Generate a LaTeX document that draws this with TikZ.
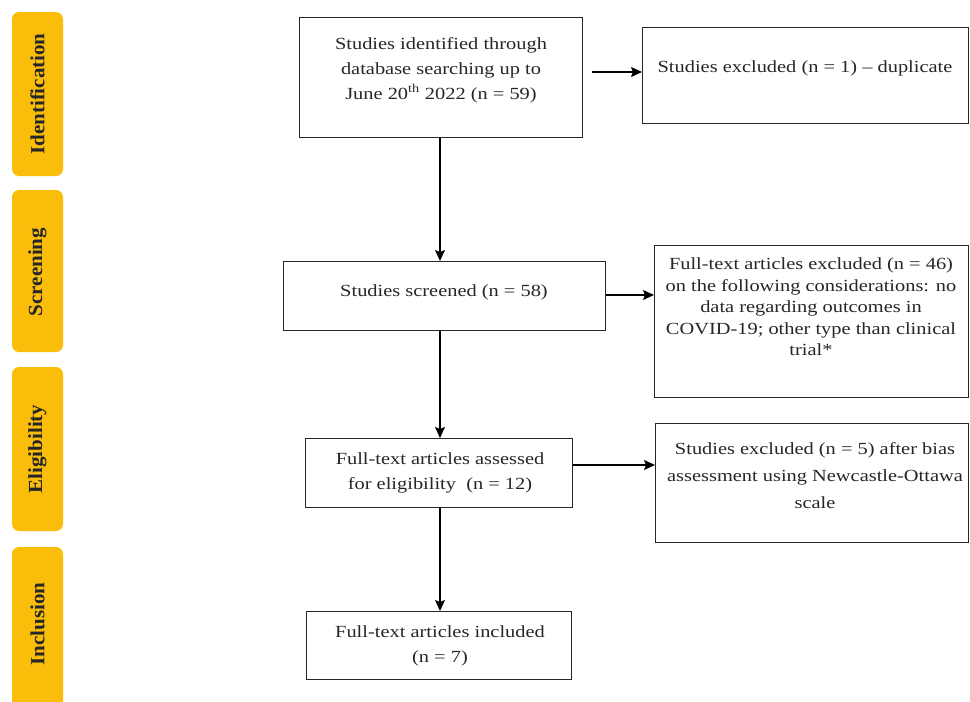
\documentclass[tikz,border=0pt]{standalone}
\usepackage{fontspec}
\setmainfont{Liberation Serif}[FakeStretch=1.2]
\newfontfamily\labelfont{Liberation Serif}[FakeStretch=1.05]
\usetikzlibrary{arrows.meta}
\definecolor{phase}{RGB}{250,189,10}
\begin{document}
\begin{tikzpicture}[x=1pt,y=-1pt,
  box/.style={draw=black!85,line width=1.1pt,rectangle,inner sep=0pt},
  txt/.style={align=center,text=black!85,font=\fontsize{17}{25}\selectfont},
  phasebox/.style={fill=phase,rounded corners=7pt},
  phaselabel/.style={rotate=90,font=\labelfont\fontsize{20}{22}\selectfont\bfseries,text=black!85},
  arr/.style={line width=1.1pt,-{Stealth[length=11pt,width=10pt,inset=2pt]}}]
\useasboundingbox (0,0) rectangle (970,702);
% phase bars
\fill[phasebox] (12,12) rectangle (63,176);
\fill[phasebox] (12,190) rectangle (63,352);
\fill[phasebox] (12,367) rectangle (63,531);
\fill[phasebox] (12,547) rectangle (63,712);
\node[phaselabel] (pid) at (37.5,94) {Identification};
\node[phaselabel] (psc) at (37.5,272) {Screening};
\node[phaselabel] (pel) at (37.5,449) {Eligibility};
\node[phaselabel] (pin) at (37.5,624) {Inclusion};
% boxes
\node[box,minimum width=283pt,minimum height=120pt,anchor=north west] (id) at (299,17) {};
\node[txt] (idt) at (441,70) {Studies identified through\\database searching up to\\June 20\textsuperscript{th} 2022 (n = 59)};
\node[box,minimum width=326pt,minimum height=96pt,anchor=north west] (ex1) at (642,27) {};
\node[txt] (ex1t) at (805,68) {Studies excluded (n = 1) -- duplicate};
\node[box,minimum width=322pt,minimum height=69pt,anchor=north west] (scr) at (283,261) {};
\node[txt] (scrt) at (444,292) {Studies screened (n = 58)};
\node[box,minimum width=314pt,minimum height=152pt,anchor=north west] (ex2) at (654,245) {};
\node[txt,font=\fontsize{17}{21.5}\selectfont] (ex2t) at (811,307) {Full-text articles excluded (n = 46)\\on the following considerations: no\\data regarding outcomes in\\COVID-19; other type than clinical\\trial*};
\node[box,minimum width=267pt,minimum height=69pt,anchor=north west] (ass) at (305,438) {};
\node[txt] (asst) at (440,473) {Full-text articles assessed\\for eligibility\ \ (n = 12)};
\node[box,minimum width=313pt,minimum height=119pt,anchor=north west] (ex3) at (655,423) {};
\node[txt,font=\fontsize{17}{27}\selectfont] (ex3t) at (815,476) {Studies excluded (n = 5) after bias\\assessment using Newcastle-Ottawa\\scale};
\node[box,minimum width=265pt,minimum height=68pt,anchor=north west] (inc) at (306,611) {};
\node[txt] (inct) at (440,646) {Full-text articles included\\(n = 7)};
% connectors
\coordinate (a1) at (592,72);
\draw[arr] (a1) -- (a1 -| ex1.west);
\draw[arr] (id.south -| 440,0) -- (scr.north -| 440,0);
\draw[arr] (scr.east |- 0,295) -- (ex2.west |- 0,295);
\draw[arr] (scr.south -| 440,0) -- (ass.north -| 440,0);
\draw[arr] (ass.east |- 0,465) -- (ex3.west |- 0,465);
\draw[arr] (ass.south -| 440,0) -- (inc.north -| 440,0);
\end{tikzpicture}
\end{document}
